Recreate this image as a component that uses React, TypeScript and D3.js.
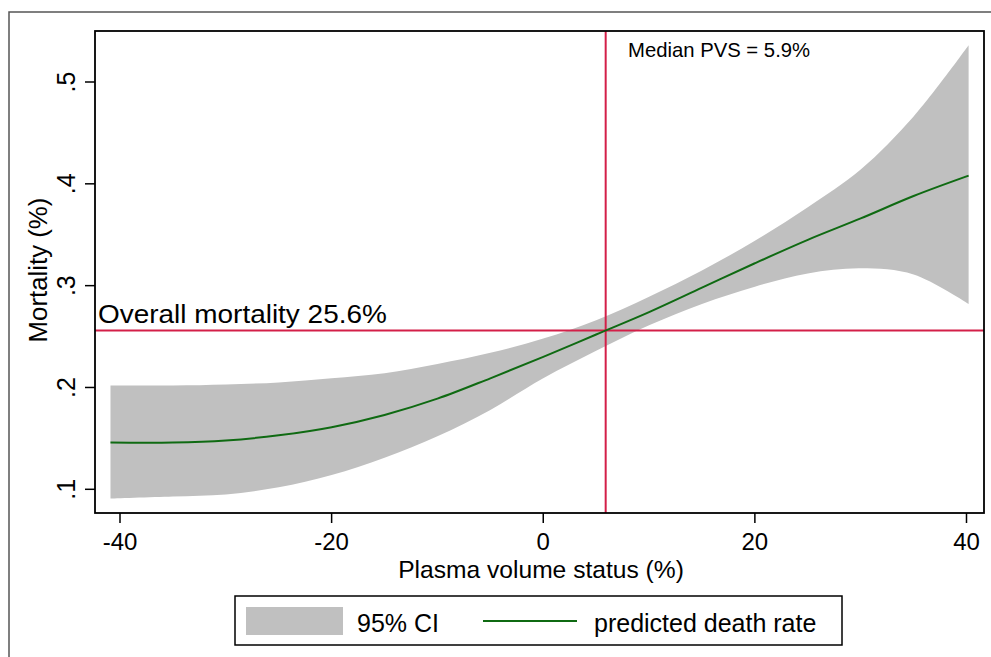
import React from "react";
import * as d3 from "d3";

// values (PVS in %, mortality as proportion)
const pvs = [-40.9, -35, -30, -25, -20, -15, -10, -5, 0, 5, 10, 15, 20, 25, 30, 35, 40.2];
const predicted = [0.146, 0.146, 0.148, 0.153, 0.161, 0.173, 0.189, 0.209, 0.230, 0.252, 0.274, 0.298, 0.322, 0.345, 0.366, 0.388, 0.408];
const ciLower = [0.091, 0.093, 0.095, 0.102, 0.114, 0.131, 0.152, 0.178, 0.209, 0.236, 0.261, 0.282, 0.299, 0.312, 0.317, 0.311, 0.282];
const ciUpper = [0.202, 0.202, 0.203, 0.205, 0.209, 0.214, 0.223, 0.234, 0.248, 0.266, 0.289, 0.315, 0.344, 0.377, 0.414, 0.466, 0.536];

const xTicks = [-40, -20, 0, 20, 40];
const yTicks = [0.1, 0.2, 0.3, 0.4, 0.5];
const yTickLabels = [".1", ".2", ".3", ".4", ".5"];

const medianPVS = 5.9;
const overallMortality = 0.256;

const W = 991, H = 657;
const font = "'Liberation Sans', Arial, Helvetica, sans-serif";
const red = "#d31f48";
const green = "#0f6a12";
const grey = "#c0c0c0";

export default function App() {
  const box = { left: 95, top: 31, right: 984, bottom: 513 };

  const x = d3.scaleLinear().domain([-40, 40]).range([120, 966.5]);
  const y = d3.scaleLinear().domain([0.1, 0.5]).range([489.3, 82]);

  const rows = pvs.map((v, i) => ({ v, p: predicted[i], lo: ciLower[i], hi: ciUpper[i] }));

  const area = d3.area<any>()
    .x(d => x(d.v))
    .y0(d => y(d.lo))
    .y1(d => y(d.hi))
    .curve(d3.curveCatmullRom);

  const line = d3.line<any>()
    .x(d => x(d.v))
    .y(d => y(d.p))
    .curve(d3.curveCatmullRom);

  return (
    <svg width={W} height={H} style={{ position: "absolute", left: 0, top: 0, background: "#fff" }}
      fontFamily={font}>
      <rect x={0} y={0} width={W} height={H} fill="#fff" />
      {/* outer frame */}
      <path d={`M9,${H} V12 H${W}`} fill="none" stroke="#555" strokeWidth={1.5} />

      <defs>
        <clipPath id="plotclip">
          <rect x={box.left} y={box.top} width={box.right - box.left} height={box.bottom - box.top} />
        </clipPath>
      </defs>

      <g clipPath="url(#plotclip)">
        <path d={area(rows) || ""} fill={grey} />
        <line x1={x(medianPVS)} x2={x(medianPVS)} y1={box.top} y2={box.bottom} stroke={red} strokeWidth={2} />
        <line x1={box.left} x2={box.right} y1={y(overallMortality)} y2={y(overallMortality)} stroke={red} strokeWidth={2} />
        <path d={line(rows) || ""} fill="none" stroke={green} strokeWidth={2} />
      </g>

      <text x={628} y={56.5} fontSize={20.3} fill="#000">Median PVS = 5.9%</text>
      <text transform="translate(98,322.5) scale(1.075,1)" fontSize={26} fill="#000">Overall mortality 25.6%</text>

      {/* plot box */}
      <rect x={box.left} y={box.top} width={box.right - box.left} height={box.bottom - box.top}
        fill="none" stroke="#000" strokeWidth={1.8} />

      {/* x axis */}
      {xTicks.map(t => (
        <g key={t}>
          <line x1={x(t)} x2={x(t)} y1={box.bottom} y2={box.bottom + 10} stroke="#000" strokeWidth={1.5} />
          <text x={x(t)} y={549.5} fontSize={24} textAnchor="middle">{t}</text>
        </g>
      ))}
      <text x={541} y={578} fontSize={24.6} textAnchor="middle">Plasma volume status (%)</text>

      {/* y axis */}
      {yTicks.map((t, i) => (
        <g key={t}>
          <line x1={box.left - 10} x2={box.left} y1={y(t)} y2={y(t)} stroke="#000" strokeWidth={1.5} />
          <text transform={`translate(75,${y(t)}) rotate(-90)`} fontSize={25} textAnchor="middle">{yTickLabels[i]}</text>
        </g>
      ))}
      <text transform="translate(46.5,270) rotate(-90)" fontSize={25.8} textAnchor="middle">Mortality (%)</text>

      {/* legend */}
      <rect x={235} y={596} width={607} height={49} fill="#fff" stroke="#000" strokeWidth={1.5} />
      <rect x={246} y={607} width={97} height={28} fill={grey} />
      <text x={357} y={632} fontSize={25}>95% CI</text>
      <line x1={483} x2={577} y1={621} y2={621} stroke={green} strokeWidth={1.8} />
      <text x={594} y={632} fontSize={25}>predicted death rate</text>
    </svg>
  );
}
